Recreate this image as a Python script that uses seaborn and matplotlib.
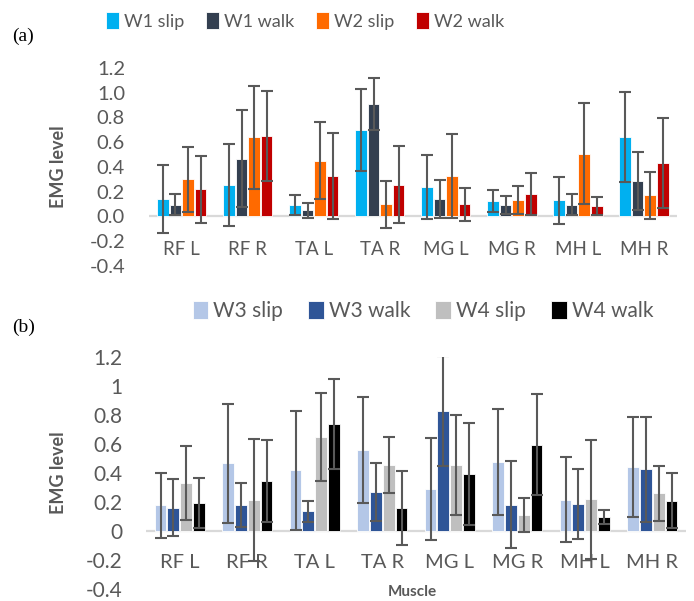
import matplotlib
matplotlib.use("Agg")
import matplotlib.pyplot as plt
import seaborn as sns
import pandas as pd

# ---------------- data ----------------
muscles = ["RF L", "RF R", "TA L", "TA R", "MG L", "MG R", "MH L", "MH R"]

conds_a = ["W1 slip", "W1 walk", "W2 slip", "W2 walk"]
w1_slip = [0.14, 0.256, 0.09, 0.70, 0.237, 0.127, 0.13, 0.64]
w1_slip_sd = [0.275, 0.33, 0.08, 0.333, 0.26, 0.09, 0.19, 0.365]
w1_walk = [0.094, 0.467, 0.05, 0.91, 0.143, 0.094, 0.094, 0.29]
w1_walk_sd = [0.085, 0.39, 0.06, 0.21, 0.155, 0.075, 0.085, 0.235]
w2_slip = [0.30, 0.64, 0.45, 0.10, 0.326, 0.135, 0.507, 0.17]
w2_slip_sd = [0.26, 0.415, 0.31, 0.19, 0.34, 0.115, 0.41, 0.19]
w2_walk = [0.22, 0.65, 0.326, 0.256, 0.097, 0.183, 0.086, 0.434]
w2_walk_sd = [0.27, 0.36, 0.35, 0.31, 0.135, 0.17, 0.07, 0.365]

conds_b = ["W3 slip", "W3 walk", "W4 slip", "W4 walk"]
w3_slip = [0.177, 0.466, 0.42, 0.56, 0.29, 0.475, 0.214, 0.44]
w3_slip_sd = [0.225, 0.41, 0.41, 0.365, 0.353, 0.363, 0.293, 0.345]
w3_walk = [0.159, 0.177, 0.136, 0.27, 0.825, 0.18, 0.186, 0.425]
w3_walk_sd = [0.197, 0.151, 0.074, 0.2, 0.38, 0.3, 0.24, 0.36]
w4_slip = [0.33, 0.214, 0.65, 0.455, 0.455, 0.11, 0.22, 0.26]
w4_slip_sd = [0.256, 0.418, 0.303, 0.192, 0.342, 0.115, 0.41, 0.19]
w4_walk = [0.193, 0.345, 0.74, 0.157, 0.393, 0.595, 0.095, 0.21]
w4_walk_sd = [0.17, 0.28, 0.31, 0.255, 0.35, 0.35, 0.048, 0.19]

yticks = [-0.4, -0.2, 0.0, 0.2, 0.4, 0.6, 0.8, 1.0, 1.2]
ytick_labels_a = ["-0.4", "-0.2", "0.0", "0.2", "0.4", "0.6", "0.8", "1.0", "1.2"]
ytick_labels_b = ["-0.4", "-0.2", "0", "0.2", "0.4", "0.6", "0.8", "1", "1.2"]

colors_a = ["#00B0F0", "#333F50", "#FF6A00", "#C00000"]
colors_b = ["#B4C7E7", "#2F5597", "#BFBFBF", "#000000"]

GREY = "#595959"

sns.set_theme(style="white")
plt.rcParams["font.family"] = ["Lato", "DejaVu Sans"]

fig = plt.figure(figsize=(6.94, 6.01), dpi=100)
ax_a = fig.add_axes([0.2143, 0.5574, 0.7612, 0.3295])
ax_b = fig.add_axes([0.2104, 0.0200, 0.7781, 0.3860])


def make_df(conds, vals):
    rows = []
    for c, v in zip(conds, vals):
        for m, x in zip(muscles, v):
            rows.append({"muscle": m, "condition": c, "value": x})
    return pd.DataFrame(rows)


def draw(ax, conds, vals, sds, colors, ylabels, fs_tick, fs_cat, cat_y, legend_pos, fs_leg):
    df = make_df(conds, vals)
    sns.barplot(data=df, x="muscle", y="value", hue="condition", order=muscles,
                hue_order=conds, palette=colors, width=0.76, gap=0.08,
                edgecolor="white", linewidth=0.6, errorbar=None, ax=ax,
                saturation=1, zorder=2)
    for cont, v, s in zip(ax.containers, vals, sds):
        xs = [p.get_x() + p.get_width() / 2 for p in cont.patches]
        ax.errorbar(xs, v, yerr=s, fmt="none", ecolor=GREY, elinewidth=1.5,
                    capsize=4.3, capthick=1.5, zorder=3)
    ax.axhline(0, color="#D9D9D9", lw=1.6, zorder=1)
    ax.set_ylim(-0.4, 1.2)
    ax.set_xlim(-0.5, len(muscles) - 0.5)
    ax.set_yticks(yticks, labels=ylabels)
    ax.tick_params(axis="y", length=0, pad=17, labelsize=fs_tick, labelcolor=GREY)
    ax.tick_params(axis="x", bottom=False, labelbottom=False)
    for i, m in enumerate(muscles):
        ax.text(i, cat_y, m, ha="center", va="center", fontsize=fs_cat, color=GREY)
    ax.set_xlabel("")
    ax.set_ylabel("EMG level", fontsize=13, fontweight="bold", color=GREY, labelpad=12)
    for sp in ax.spines.values():
        sp.set_visible(False)
    ax.set_facecolor("none")
    sns.move_legend(ax, "center", bbox_to_anchor=legend_pos, bbox_transform=fig.transFigure,
                    ncol=4, frameon=False, title=None, fontsize=fs_leg,
                    handlelength=0.75, handleheight=1.0, handletextpad=0.25,
                    columnspacing=1.2, labelcolor=GREY)


draw(ax_a, conds_a, [w1_slip, w1_walk, w2_slip, w2_walk],
     [w1_slip_sd, w1_walk_sd, w2_slip_sd, w2_walk_sd], colors_a, ytick_labels_a,
     14.5, 13.5, -0.27, (0.4395, 0.965), 13)
draw(ax_b, conds_b, [w3_slip, w3_walk, w4_slip, w4_walk],
     [w3_slip_sd, w3_walk_sd, w4_slip_sd, w4_walk_sd], colors_b, ytick_labels_b,
     15, 14.5, -0.22, (0.6095, 0.4825), 15)

ax_a.yaxis.set_label_coords(-0.155, 0.5)
ax_b.yaxis.set_label_coords(-0.146, 0.5)

fig.text(412 / 694, 1 - 592 / 601, "Muscle", ha="center", va="center",
         fontsize=11, fontweight="bold", color=GREY)
fig.text(0.017, 1 - 36 / 601, "(a)", ha="left", va="center", fontsize=14,
         family="Liberation Serif", color="black")
fig.text(0.017, 1 - 327 / 601, "(b)", ha="left", va="center", fontsize=14,
         family="Liberation Serif", color="black")

fig.savefig("out.png", dpi=100)
